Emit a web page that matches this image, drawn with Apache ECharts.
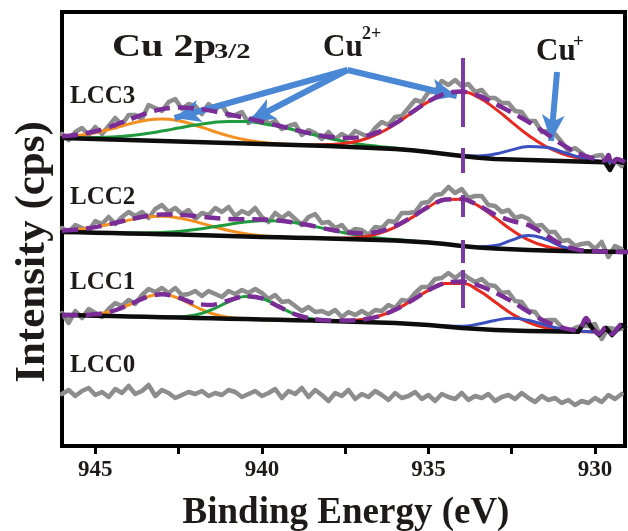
<!DOCTYPE html>
<html><head><meta charset="utf-8">
<script src="https://cdn.jsdelivr.net/npm/echarts@6/dist/echarts.min.js"></script>
<style>html,body{margin:0;padding:0;background:#fff}#c{width:628px;height:531px}</style>
</head><body><div id="c"></div>
<script>
const _ = null;
// x categories (binding energy, eV)
const fitE = [946, 945.5, 945, 944.5, 944, 943.5, 943, 942.5, 942, 941.5, 941, 940.5, 940, 939.5, 939, 938.5, 938, 937.5, 937, 936.5, 936, 935.5, 935, 934.5, 934, 933.5, 933, 932.5, 932, 931.5, 931, 930.5, 930, 929.5, 929];
const grayE = [946, 945.8, 945.6, 945.4, 945.2, 945, 944.8, 944.6, 944.4, 944.2, 944, 943.8, 943.6, 943.4, 943.2, 943, 942.8, 942.6, 942.4, 942.2, 942, 941.8, 941.6, 941.4, 941.2, 941, 940.8, 940.6, 940.4, 940.2, 940, 939.8, 939.6, 939.4, 939.2, 939, 938.8, 938.6, 938.4, 938.2, 938, 937.8, 937.6, 937.4, 937.2, 937, 936.8, 936.6, 936.4, 936.2, 936, 935.8, 935.6, 935.4, 935.2, 935, 934.8, 934.6, 934.4, 934.2, 934, 933.8, 933.6, 933.4, 933.2, 933, 932.8, 932.6, 932.4, 932.2, 932, 931.8, 931.6, 931.4, 931.2, 931, 930.8, 930.6, 930.4, 930.2, 930, 929.8, 929.6, 929.4, 929.2];
const xTickLabels = [930, 935, 940, 945];
const xTicks = [930, 932.5, 935, 937.5, 940, 942.5, 945];

// LCC3 (offset intensity, cps)
const gray3 = [312,306,314,318,311,319,312,320,328,321,331,331,327,341,338,335,344,347,337,342,340,332,342,337,341,330,331,334,323,329,331,322,325,317,320,322,311,316,313,307,314,307,312,308,315,312,309,318,324,321,329,330,338,346,344,354,354,365,361,366,360,362,354,356,348,348,343,343,335,334,325,325,314,315,312,304,295,298,293,287,290,291,282,286,280];
const base3 = [308, 307.5, 307, 306.5, 306, 305.5, 305, 304.5, 304, 303.5, 303, 302.5, 302, 301.5, 301, 300.5, 300, 299.3, 298.5, 297.8, 297, 295.7, 294, 292, 290, 288.3, 287, 286.4, 286, 285.5, 285, 284.5, 284];
const base3Tail = [[929.7, 283.8], [929.55, 276], [929.4, 285], [929.1, 283]];
const env3 = [309.7, 311.4, 314.7, 319.8, 326.2, 332.4, 336.9, 338.6, 337.7, 335.1, 331.7, 328.1, 324.3, 320.3, 316.1, 312.2, 309.2, 307.9, 309.1, 314.1, 322.6, 333.6, 344.6, 352.4, 354.5, 350.4, 342.3, 333.6, 324.2, 313.3, 301.8, 292.6, 287];
const env3Tail = [[929.7, 285.5], [929.6, 291], [929.5, 280], [929.35, 287], [929.1, 284]];
const orange3 = [309.4, 310.7, 313.3, 317.3, 321.9, 325.6, 327, 325.2, 320.8, 315.3, 310.1, 306.2, 303.7, 302.2, 301.2, 300.5, 300, 299.3, 298.5, 297.8, 297, 295.7, 294];
const green3 = [308.3, 308.2, 308.4, 309, 310.3, 312.3, 314.9, 317.9, 320.9, 323.3, 324.6, 324.4, 322.6, 319.6, 315.7, 311.6, 307.8, 304.4, 301.6, 299.6, 297.9, 296.1, 294.2, 292];
const red3 = [_,_,_,_,_,_,_,_,_,_,_,_,_,_, 301.2, 301, 301.4, 302.8, 306, 312.3, 321.7, 333.2, 344.4, 352.3, 354, 348.6, 337.4, 323.9, 310.7, 300, 292.5, 288, 285.4, 284, 283.2];
const blue3 = [_,_,_,_,_,_,_,_,_,_,_,_,_,_,_,_,_,_,_,_,_,_,_, 292.1, 290.5, 290.1, 291.9, 296.1, 299.5, 298.8, 294.3, 289.1, 285.6, 283.9, 283];

// LCC2
const gray2 = [218,214,221,218,215,225,222,229,222,229,234,230,234,228,237,241,234,238,232,236,227,233,231,238,234,239,230,235,232,238,229,224,233,228,233,227,221,229,232,223,224,218,221,213,217,216,211,219,218,225,224,233,233,234,243,244,251,252,259,253,257,248,250,250,241,240,234,236,228,230,227,220,221,214,214,205,206,200,202,203,197,204,189,200,197];
const base2 = [214, 213.7, 213.3, 212.9, 212.5, 212.2, 211.8, 211.4, 211, 210.5, 210, 209.5, 209, 208.7, 208.3, 207.9, 207.5, 207, 206.5, 206, 205.5, 204.6, 203.5, 201.9, 200, 198.6, 197.5, 196.7, 196, 195.5, 195, 194.7, 194.5, 194.2, 194];
const env2 = [215.3, 216.5, 218.9, 222.4, 226.3, 229.7, 231.5, 231.3, 229.9, 228.2, 227.1, 226.7, 226.5, 225.6, 223.4, 220.2, 216.7, 213.9, 212.6, 214.4, 219.9, 228.8, 239.2, 246.4, 246.9, 240.6, 231.3, 225.2, 220.8, 211.5, 201.2, 196.1, 194.8, 194.2, 194];
const orange2 = [215.3, 216.5, 218.8, 222.2, 225.9, 228.9, 229.8, 228.1, 224.4, 219.8, 215.5, 212.3, 210.3, 209.2, 208.5, 207.9, 207.5, 207, 206.5, 206, 205.5, 204.6, 203.5];
const green2 = [214, 213.7, 213.35, 213.05, 212.9, 213, 213.5, 214.6, 216.5, 218.9, 221.6, 223.9, 225.2, 225.1, 223.2, 220.1, 216.5, 213, 210.1, 208, 206.5, 205, 203.7, 201.9];
const red2 = [_,_,_,_,_,_,_,_,_,_,_,_,_,_,_,_, 207.7, 207.9, 209, 212.4, 218.9, 228.4, 239, 246.4, 246.8, 240.1, 228.4, 216, 206.2, 200, 196.7, 195.2, 194.6, 194.2, 194];
const blue2 = [_,_,_,_,_,_,_,_,_,_,_,_,_,_,_,_,_,_,_,_,_,_,_, 201.9, 200, 199.1, 200.4, 205.9, 210.6, 207, 199.5, 195.6, 194.6, 194.2, 194];

// LCC1
const gray1 = [133,123,135,128,137,133,129,137,143,140,146,142,151,157,154,158,153,158,151,152,155,150,155,152,149,155,152,156,153,157,153,147,151,144,145,140,135,139,134,135,132,136,129,134,131,135,131,136,135,141,138,146,145,153,159,159,167,168,173,168,173,168,164,167,161,160,153,154,145,144,135,134,125,126,126,119,114,118,120,120,122,107,118,117,117];
const base1 = [131, 130.7, 130.3, 129.9, 129.5, 129.2, 128.8, 128.4, 128, 127.7, 127.3, 126.9, 126.5, 126.2, 125.8, 125.4, 125, 124.5, 124, 123.5, 123, 122.1, 121, 119.5, 118, 116.9, 116, 115.4, 115, 114.7, 114.5, 114.2];
const base1Tail = [[930.27, 127], [930.09, 118], [929.88, 111], [929.67, 118], [929.49, 111], [929.19, 121], [929.1, 119]];
const env1 = [131, 131, 131.7, 134.7, 141, 148.5, 151.8, 148.4, 142.5, 141.1, 145.5, 149.8, 147.6, 139.6, 131.7, 127.2, 125.6, 125.4, 126.4, 129.7, 136.2, 145.5, 155.8, 163, 164.4, 160.6, 153.5, 144.6, 134.3, 124.6, 118.3, 115.3];
const env1Tail = [[930.27, 128], [930.09, 119], [929.88, 112], [929.67, 119], [929.49, 112], [929.19, 122], [929.1, 120]];
const orange1 = [131, 131, 131.7, 134.7, 141, 148.5, 151.8, 147.7, 139.5, 132.5, 128.7, 127.2, 126.5, 126.2, 125.8, 125.4, 125, 124.5, 124];
const green1 = [_,_,_,_, 129.5, 129.2, 128.9, 129.1, 131, 136.3, 144.1, 149.5, 147.5, 139.6, 131.7, 127.2, 125.4, 124.5, 124, 123.5, 123];
const red1 = [_,_,_,_,_,_,_,_,_,_,_,_,_,_,_,_, 125.2, 125.3, 126.4, 129.7, 136.2, 145.5, 155.7, 162.6, 162.6, 155.6, 144, 132.3, 123.6, 118.3, 115.8, 114.6, 114.1];
const blue1 = [_,_,_,_,_,_,_,_,_,_,_,_,_,_,_,_,_,_,_,_,_, 122.1, 121.1, 119.9, 119.8, 121.9, 125.5, 127.7, 125.7, 121, 117, 114.9, 114.1];

// LCC0
const gray0 = [52,56,50,55,58,51,54,49,57,53,60,52,55,61,50,56,53,48,51,54,52,55,50,53,51,56,54,49,52,55,50,53,57,48,55,52,58,49,56,51,45,53,50,56,47,52,49,55,51,46,53,48,50,54,47,51,45,52,49,47,53,46,50,48,52,45,49,51,47,53,48,44,50,46,48,43,46,41,45,43,48,44,51,47,52];

// annotations (data coordinates)
const vlineE = 933.97;
const vlineSegs = [[388, 319], [298, 273], [251, 229], [206, 183], [176, 138]];
const cu2From = [937.43, 376];
const cu2Tips = [[942.62, 328], [940.38, 325], [934.15, 350]];
const cu1Arrow = [[931.14, 374], [931.32, 305]];

const C = {gray:'#8d8d8d', orange:'#f4901f', green:'#1f9a3c', red:'#e8291f', blue:'#3b4fc1', purple:'#7a2c97', black:'#0d0d0d', arrow:'#4a87d4', vline:'#7d3ca3', text:'#1f1a1a'};
const SERIF = '"Liberation Serif", "Times New Roman", serif';

function pairs(xs, ys) { const out = []; for (let i = 0; i < ys.length; i++) { if (ys[i] != null) out.push([xs[i], ys[i]]); } return out; }
function ln(data, color, width, z, opts) {
  return Object.assign({type:'line', data, showSymbol:false, symbol:'none', silent:true, animation:false, z,
    lineStyle:{color, width, type:'solid', cap:'round', join:'round'}}, opts || {});
}
const series = [];
const spectra = [
  {gray:gray3, base:pairs(fitE, base3).concat(base3Tail), env:pairs(fitE, env3).concat(env3Tail), o:orange3, g:green3, r:red3, b:blue3},
  {gray:gray2, base:pairs(fitE, base2), env:pairs(fitE, env2), o:orange2, g:green2, r:red2, b:blue2},
  {gray:gray1, base:pairs(fitE, base1).concat(base1Tail), env:pairs(fitE, env1).concat(env1Tail), o:orange1, g:green1, r:red1, b:blue1}
];
spectra.forEach(s => {
  series.push(ln(pairs(grayE, s.gray), C.gray, 4.5, 2));
  series.push(ln(pairs(fitE, s.o), C.orange, 3, 3, {smooth:true}));
  series.push(ln(pairs(fitE, s.g), C.green, 3, 3, {smooth:true}));
  series.push(ln(pairs(fitE, s.r), C.red, 3, 3, {smooth:true}));
  series.push(ln(pairs(fitE, s.b), C.blue, 3, 3, {smooth:true}));
  series.push(ln(s.base, C.black, 4.5, 4));
  const e = ln(s.env, C.purple, 4.5, 5, {smooth:0.3});
  e.lineStyle.type = [16, 8]; e.lineStyle.cap = 'butt';
  series.push(e);
});
series.push(ln(pairs(grayE, gray0), C.gray, 4.5, 2));
// vertical dashed marker
series.push(ln([[vlineE, vlineSegs[0][0]]], C.vline, 0, 6, {
  markLine:{silent:true, animation:false, symbol:['none','none'], label:{show:false},
    lineStyle:{color:C.vline, width:4, type:'solid'},
    data: vlineSegs.map(sg => [{coord:[vlineE, sg[0]]}, {coord:[vlineE, sg[1]]}])}
}));
// arrows
const arrowLines = cu2Tips.map(t => [{coord:cu2From}, {coord:t}]).concat([[{coord:cu1Arrow[0]}, {coord:cu1Arrow[1]}]]);
series.push(ln([cu2From], C.arrow, 0, 8, {
  markLine:{silent:true, animation:false, symbol:['none','arrow'], symbolSize:[17, 26], label:{show:false},
    lineStyle:{color:C.arrow, width:6, type:'solid', opacity:1},
    data: arrowLines}
}));

function txt(x, y, text, size, extra) {
  return Object.assign({type:'text', x, y, z:100, silent:true,
    style:{text, font:'bold ' + size + 'px ' + SERIF, fill:C.text, align:'left', verticalAlign:'middle', textAlign:'left', textVerticalAlign:'middle'}}, extra || {});
}
const graphic = [
  txt(112, 47.5, 'Cu 2p', 31, {scaleX:1.3}),
  txt(214, 52, '3/2', 22, {scaleX:1.3}),
  txt(323, 47.5, 'Cu', 31),
  txt(362, 34, '2+', 18),
  txt(536, 52, 'Cu', 31),
  txt(573, 42, '+', 19),
  txt(70, 96.6, 'LCC3', 25),
  txt(70, 197.6, 'LCC2', 25),
  txt(70, 282.6, 'LCC1', 25),
  txt(70, 365.6, 'LCC0', 25),
  {type:'text', x:33, y:252, rotation:Math.PI/2, z:100, silent:true,
    style:{text:'Intensity (cps)', font:'bold 43px ' + SERIF, fill:C.text, align:'center', verticalAlign:'middle', textAlign:'center', textVerticalAlign:'middle'}},
  {type:'text', x:346, y:513, z:100, silent:true,
    style:{text:'Binding Energy (eV)', font:'bold 37px ' + SERIF, fill:C.text, align:'center', verticalAlign:'middle', textAlign:'center', textVerticalAlign:'middle'}}
];

const chart = echarts.init(document.getElementById('c'), null, {renderer:'canvas'});
chart.setOption({
  animation:false,
  backgroundColor:'#ffffff',
  grid:{left:62, right:3, top:12, bottom:85, show:true, borderColor:'#000', borderWidth:4, backgroundColor:'transparent', containLabel:false},
  xAxis:{type:'value', min:929.1, max:946, inverse:true,
    axisLine:{show:true, onZero:false, lineStyle:{color:'#000', width:4}},
    axisTick:{show:true, inside:false, length:8, customValues:xTicks, lineStyle:{color:'#000', width:3}},
    axisLabel:{show:true, customValues:xTickLabels, margin:13, color:C.text, fontFamily:SERIF, fontWeight:'bold', fontSize:23},
    splitLine:{show:false}, minorTick:{show:false}},
  yAxis:{type:'value', min:0, max:434, axisLine:{show:false}, axisTick:{show:false}, axisLabel:{show:false}, splitLine:{show:false}},
  series,
  graphic
});
</script></body></html>
